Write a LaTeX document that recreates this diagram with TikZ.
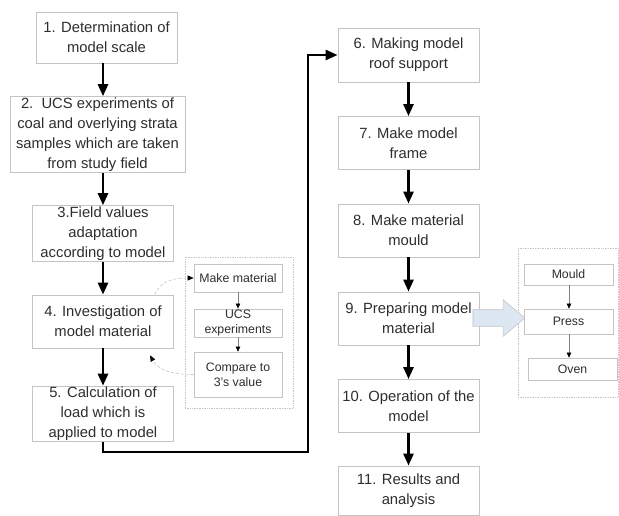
\documentclass[tikz,border=0pt]{standalone}
\usepackage{fontspec}
\setmainfont{Liberation Sans}
\usetikzlibrary{arrows.meta,positioning,shapes.arrows,calc}
\definecolor{boxgray}{HTML}{C4C4C4}
\definecolor{txtgray}{HTML}{2E2E2E}
\definecolor{flowblue}{HTML}{DCE7F2}

\begin{document}
\begin{tikzpicture}[x=1pt, y=-1pt,
  every node/.style={font=\fontsize{14.8}{20}\selectfont, text=txtgray},
  stepbox/.style={rectangle, draw=boxgray, line width=0.8pt, fill=white, minimum width=141pt, minimum height=53pt, align=center, inner sep=1pt},
  subbox/.style={rectangle, draw=boxgray, line width=0.7pt, fill=white, minimum width=88pt, align=center, inner sep=1pt, font=\fontsize{12.3}{15}\selectfont},
  groupbox/.style={rectangle, draw=boxgray, densely dotted, line width=0.7pt, inner sep=0pt},
  arr/.style={-{Triangle[length=12pt,width=10pt]}, line width=2.6pt, black},
  subarr/.style={-{Triangle[length=5pt,width=4.5pt,color=black]}, line width=0.5pt, gray},
  backarr/.style={-{Triangle[length=6pt,width=5pt,color=black]}, densely dashed, boxgray, line width=0.6pt},
  blockarr/.style={single arrow, draw=boxgray, fill=flowblue, line width=0.6pt, minimum height=52pt, inner xsep=0pt, inner ysep=8pt, single arrow head extend=10pt, single arrow tip angle=80}
]
\useasboundingbox (0,0) rectangle (619,516);

% Dotted groups (behind)
\node[groupbox, minimum width=108pt, minimum height=151pt] (grpmat) at (239,332.5) {};
\node[groupbox, minimum width=100pt, minimum height=149pt] (grpprep) at (568,322.5) {};

% Left column
\node[stepbox, minimum height=51pt] (s1) at (106.5,37.5) {1. Determination of\\model scale};
\node[stepbox, minimum width=175pt, minimum height=71pt] (s2) at (97.5,134.5) {2.\ \ UCS experiments of\\coal and overlying strata\\samples which are taken\\from study field};
\node[stepbox] (s3) at (103,233.5) {3.Field values\\adaptation\\according to model};
\node[stepbox] (s4) at (103,321.5) {4. Investigation of\\model material};
\node[stepbox, minimum height=54pt] (s5) at (103,414) {5. Calculation of\\load which is\\applied to model};

% Right column
\node[stepbox, minimum height=54pt] (s6) at (408.5,55) {6. Making model\\roof support};
\node[stepbox] (s7) at (408.5,143) {7. Make model\\frame};
\node[stepbox] (s8) at (408.5,230.5) {8. Make material\\mould};
\node[stepbox] (s9) at (408.5,318.5) {9. Preparing model\\material};
\node[stepbox] (s10) at (408.5,406) {10. Operation of the\\model};
\node[stepbox, minimum height=49pt] (s11) at (408.5,490.5) {11. Results and\\analysis};

% Material sub-steps
\node[subbox, minimum height=28pt] (mat) at (238,278) {Make material};
\node[subbox, minimum height=28pt] (ucs) at (238,323) {UCS\\experiments};
\node[subbox, minimum height=45pt] (cmp) at (238,374.5) {Compare to\\3's value};

% Preparing sub-steps
\node[subbox, minimum width=89pt, minimum height=21pt] (mould) at (568.5,274.5) {Mould};
\node[subbox, minimum width=89pt, minimum height=25pt] (press) at (568.5,321.5) {Press};
\node[subbox, minimum width=89pt, minimum height=22pt] (oven) at (572.5,369) {Oven};

% Block arrow
\node[blockarr] (blk) at (494,318) {};

% Arrows
\draw[arr] (s1.south -| s3) -- (s2.north -| s3);
\draw[arr] (s2.south -| s3) -- (s3.north);
\draw[arr] (s3) -- (s4);
\draw[arr] (s4) -- (s5);
\coordinate (turn) at (308,452);
\draw[arr] (s5.south) |- (turn) |- (s6.west);
\draw[arr] (s6) -- (s7);
\draw[arr] (s7) -- (s8);
\draw[arr] (s8) -- (s9);
\draw[arr] (s9) -- (s10);
\draw[arr] (s10) -- (s11);

\draw[subarr] (mat) -- (ucs);
\draw[subarr] (ucs) -- (cmp);
\draw[subarr] (mould.south -| 569,0) -- (press.north -| 569,0);
\draw[subarr] (press.south -| 569,0) -- (oven.north -| 569,0);

\draw[backarr] ([xshift=52pt]s4.north) to[out=70,in=180] (mat.west);
\draw[backarr] (cmp.west) to[out=180,in=-60] ([xshift=47pt,yshift=-7pt]s4.south);

\end{tikzpicture}
\end{document}
